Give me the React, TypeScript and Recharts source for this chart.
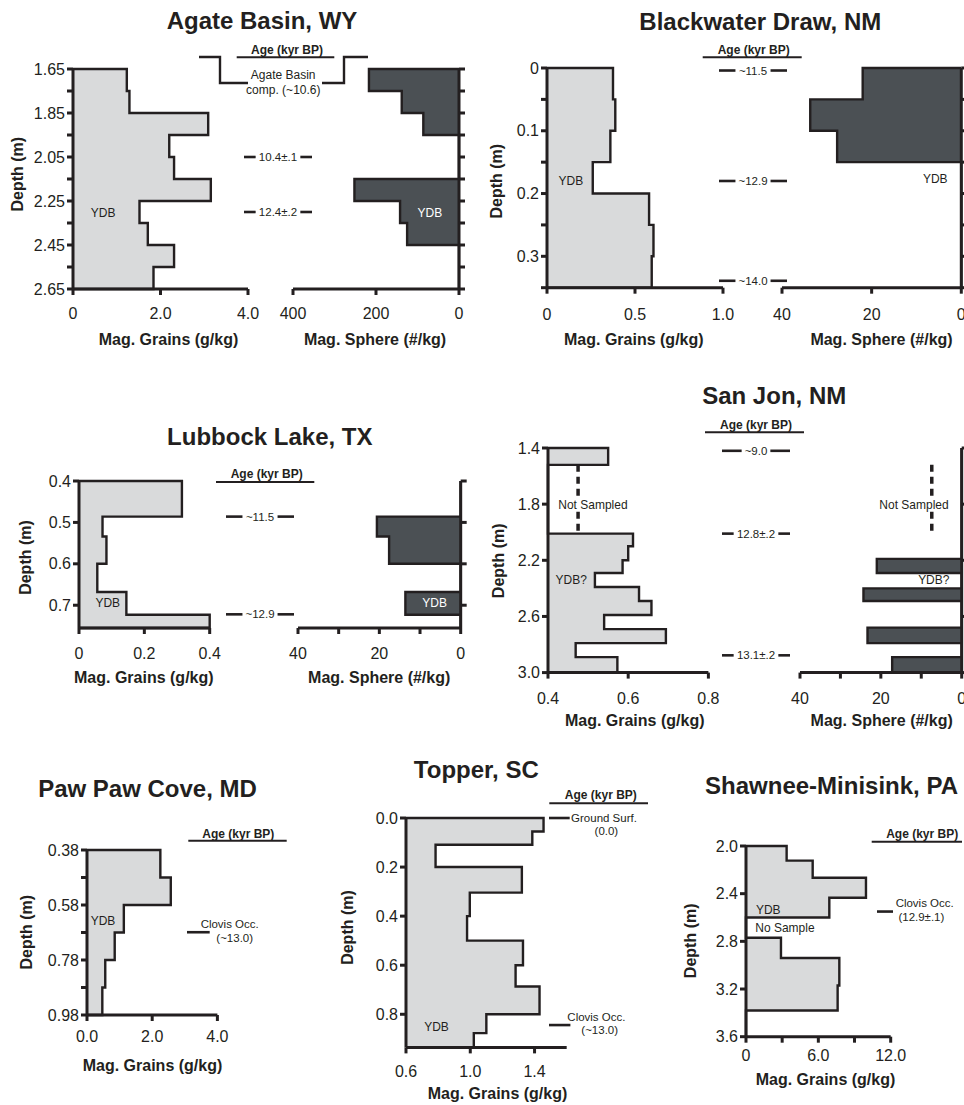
import React from 'react'
import { ComposedChart, Area, Scatter, XAxis, YAxis, ReferenceDot, ReferenceLine } from 'recharts'

const INK = '#231f20'
const LIGHT = '#d9dadb'
const DARK = '#4b5054'
const FONT = '"Liberation Sans", Arial, Helvetica, sans-serif'
const TOP = 12
const BOTTOM = 48

// Agate Basin, WY
const agateDepths = [1.65, 1.75, 1.85, 1.95, 2.05, 2.15, 2.25, 2.35, 2.45, 2.55, 2.65]
const agateGrains = [1.23, 1.29, 3.09, 2.2, 2.31, 3.15, 1.52, 1.71, 2.31, 1.84]
const agateSpheres = [217, 138, 86, 0, 0, 252, 142, 125, 0, 0]
const agateYLabels = ['1.65', '', '1.85', '', '2.05', '', '2.25', '', '2.45', '', '2.65']
const agateAgeDepths = [2.05, 2.3]
const agateAgeLabels = ['10.4±.1', '12.4±.2']

// Blackwater Draw, NM
const blackwaterDepths = [0, 0.05, 0.1, 0.15, 0.2, 0.25, 0.3, 0.35]
const blackwaterGrains = [0.375, 0.388, 0.36, 0.26, 0.58, 0.605, 0.595]
const blackwaterSpheres = [22, 33.7, 27.7, 0, 0, 0, 0]
const blackwaterYLabels = ['0', '', '0.1', '', '0.2', '', '0.3', '']
const blackwaterAgeDepths = [0.004, 0.18, 0.339]
const blackwaterAgeLabels = ['~11.5', '~12.9', '~14.0']

// Lubbock Lake, TX
const lubbockDepths = [0.4, 0.486, 0.534, 0.6, 0.668, 0.723, 0.755]
const lubbockGrains = [0.315, 0.072, 0.084, 0.056, 0.145, 0.4]
const lubbockSpheres = [0, 20.6, 17.6, 0, 13.6, 0]
const lubbockYTicks = [0.4, 0.5, 0.6, 0.7]
const lubbockYLabels = ['0.4', '0.5', '0.6', '0.7']
const lubbockAgeDepths = [0.486, 0.722]
const lubbockAgeLabels = ['~11.5', '~12.9']

// San Jon, NM
const sanJonDepths = [1.4, 1.52, 2.01, 2.1, 2.2, 2.29, 2.39, 2.49, 2.59, 2.69, 2.79, 2.89, 3.0]
const sanJonGrains = [0.55, 0.4, 0.612, 0.6, 0.586, 0.517, 0.627, 0.658, 0.54, 0.694, 0.469, 0.573]
const sanJonSphereDepths = [1.4, 2.19, 2.29, 2.4, 2.49, 2.68, 2.79, 2.89, 3.0]
const sanJonSpheres = [0, 21, 0, 24.3, 0, 23.3, 0, 17.2]
const sanJonYTicks = [1.4, 1.8, 2.2, 2.6, 3.0]
const sanJonYLabels = ['1.4', '1.8', '2.2', '2.6', '3.0']
const sanJonAgeDepths = [1.42, 2.01, 2.877]
const sanJonAgeLabels = ['~9.0', '12.8±.2', '13.1±.2']

// Paw Paw Cove, MD
const pawPawDepths = [0.38, 0.48, 0.58, 0.68, 0.78, 0.88, 0.98]
const pawPawGrains = [2.25, 2.57, 1.13, 0.85, 0.56, 0.47]
const pawPawYLabels = ['0.38', '', '0.58', '', '0.78', '', '0.98']
const pawPawAgeDepths = [0.679]
const pawPawAgeLabels = [['Clovis Occ.', '(~13.0)']]

// Topper, SC
const topperDepths = [0, 0.055, 0.109, 0.2, 0.304, 0.4, 0.5, 0.6, 0.687, 0.8, 0.877, 0.935]
const topperGrains = [1.456, 1.386, 0.784, 1.321, 0.997, 0.98, 1.328, 1.282, 1.431, 1.1, 1.022]
const topperYTicks = [0, 0.2, 0.4, 0.6, 0.8]
const topperYLabels = ['0.0', '0.2', '0.4', '0.6', '0.8']
const topperAgeDepths = [0, 0.844]
const topperAgeLabels = [['Ground Surf.', '(0.0)'], ['Clovis Occ.', '(~13.0)']]

// Shawnee-Minisink, PA
const shawneeDepths = [2.0, 2.123, 2.266, 2.434, 2.6, 2.77, 2.94, 3.17, 3.38, 3.6]
const shawneeGrains = [3.37, 5.53, 9.95, 6.91, 0, 2.9, 7.74, 7.6, 0]
const shawneeYTicks = [2.0, 2.4, 2.8, 3.2, 3.6]
const shawneeYLabels = ['2.0', '2.4', '2.8', '3.2', '3.6']
const shawneeAgeDepths = [2.55]
const shawneeAgeLabels = [['Clovis Occ.', '(12.9±.1)']]

type Note = { v: number; d: number; text: string; color?: string }
type Gap = { v: number; from: number; to: number }
type NoteLayout = { line: number; t1: [number, number]; t2: [number, number] }

// step outline: in at the top, down each interval, back to the axis at the bottom
function stepRows(depths: number[], values: number[], base: number) {
  const rows = [{ d: depths[0], v: base }]
  values.forEach((v, i) => {
    rows.push({ d: depths[i], v })
    rows.push({ d: depths[i + 1], v })
  })
  rows.push({ d: depths[depths.length - 1], v: base })
  return rows
}

const fmt = (labels: string[]) => (_: number, i: number) => labels[i] ?? ''

const textW = (s: string) =>
  [...s].reduce((w, c) => w + (c === '.' ? 0.278 : c === '~' || c === '±' ? 0.584 : 0.556), 0) * 11.5

type ProfileProps = {
  box: number[]
  side: 'left' | 'right'
  depths: number[]
  values: number[]
  base?: number
  xDomain: [number, number]
  xTicks: number[]
  xLabels: string[]
  yDomain: [number, number]
  yTicks: number[]
  yLabels?: string[]
  fill: string
  tickMargin?: number
  notes?: Note[]
  gaps?: Gap[]
}

function Profile(p: ProfileProps) {
  const [x0, x1, y0, y1] = p.box
  const left = p.side === 'left'
  const yw = left ? 50 : 14
  const padL = left ? yw : 28
  const padR = left ? 28 : yw
  const base = p.base ?? 0
  const data = stepRows(p.depths, p.values, base)
  const axisLine = { stroke: INK, strokeWidth: 3 }
  const tick = { fill: INK, fontSize: 16, fontFamily: FONT }
  return (
    <div style={{ position: 'absolute', left: x0 - padL, top: y0 - TOP }}>
      <ComposedChart
        layout="vertical"
        width={x1 - x0 + padL + padR}
        height={y1 - y0 + TOP + BOTTOM}
        data={data}
        margin={{ top: TOP, right: left ? padR : 0, bottom: 0, left: left ? 0 : padL }}
      >
        <Area
          type="linear"
          dataKey="v"
          baseValue={base}
          stroke={INK}
          strokeWidth={2.4}
          fill={p.fill}
          fillOpacity={1}
          dot={false}
          activeDot={false}
          isAnimationActive={false}
        />
        {(p.gaps ?? []).map((g, i) => (
          <ReferenceLine
            key={i}
            segment={[{ x: g.v, y: g.from }, { x: g.v, y: g.to }]}
            stroke={INK}
            strokeWidth={3.5}
            strokeDasharray="7 5"
          />
        ))}
        {(p.notes ?? []).map((n, i) => (
          <ReferenceDot
            key={i}
            x={n.v}
            y={n.d}
            r={0}
            stroke="none"
            fill="none"
            label={{ value: n.text, position: 'center', fill: n.color ?? INK, fontSize: 12, fontFamily: FONT }}
          />
        ))}
        <XAxis
          type="number"
          domain={p.xDomain}
          ticks={p.xTicks}
          tickFormatter={fmt(p.xLabels)}
          reversed={!left}
          height={BOTTOM}
          interval={0}
          tickSize={6}
          tickMargin={p.tickMargin ?? 13}
          axisLine={axisLine}
          tickLine={axisLine}
          tick={tick}
        />
        {/* in vertical layout the Y axis already runs top-down */}
        <YAxis
          type="number"
          dataKey="d"
          domain={p.yDomain}
          ticks={p.yTicks}
          tickFormatter={fmt(p.yLabels ?? [])}
          orientation={p.side}
          width={yw}
          interval={0}
          tickSize={6}
          tickMargin={2}
          axisLine={axisLine}
          tickLine={axisLine}
          tick={tick}
        />
      </ComposedChart>
    </div>
  )
}

type AgeProps = {
  box: number[]
  yDomain: [number, number]
  depths: number[]
  labels: (string | string[])[]
  layouts?: NoteLayout[]
}

function AgeColumn({ box, yDomain, depths, labels, layouts }: AgeProps) {
  const [x0, x1, y0, y1] = box
  const data = depths.map((d, i) => ({ x: layouts ? 0 : 0.5, d, i }))
  const txt = { fontSize: 11.5, fontFamily: FONT, fill: INK }

  const shape = (props: any) => {
    const { cx, cy, payload } = props
    const label = labels[payload.i]
    if (!layouts) {
      const half = textW(label as string) / 2 + 3
      return (
        <g>
          <line x1={cx - 34} x2={cx - half} y1={cy} y2={cy} stroke={INK} strokeWidth={2.6} />
          <line x1={cx + half} x2={cx + 34} y1={cy} y2={cy} stroke={INK} strokeWidth={2.6} />
          <text x={cx} y={cy} dy="0.36em" textAnchor="middle" {...txt}>{label as string}</text>
        </g>
      )
    }
    const L = layouts[payload.i]
    const [a, b] = label as string[]
    return (
      <g>
        <line x1={cx} x2={cx + L.line} y1={cy} y2={cy} stroke={INK} strokeWidth={2.6} />
        <text x={cx + L.t1[0]} y={cy + L.t1[1]} dy="0.36em" textAnchor="middle" {...txt}>{a}</text>
        <text x={cx + L.t2[0]} y={cy + L.t2[1]} dy="0.36em" textAnchor="middle" {...txt}>{b}</text>
      </g>
    )
  }

  return (
    <div style={{ position: 'absolute', left: x0, top: y0 - TOP }}>
      <ComposedChart
        layout="vertical"
        width={x1 - x0}
        height={y1 - y0 + TOP + BOTTOM}
        data={data}
        margin={{ top: TOP, right: 0, bottom: BOTTOM, left: 0 }}
      >
        <XAxis type="number" dataKey="x" domain={[0, 1]} hide />
        <YAxis type="number" dataKey="d" domain={yDomain} hide />
        <Scatter dataKey="x" isAnimationActive={false} shape={shape} />
      </ComposedChart>
    </div>
  )
}

const TITLES: [string, number, number][] = [
  ['Agate Basin, WY', 262, 20],
  ['Blackwater Draw, NM', 760.3, 21],
  ['Lubbock Lake, TX', 269.8, 436],
  ['San Jon, NM', 774.2, 395],
  ['Paw Paw Cove, MD', 147.5, 788.3],
  ['Topper, SC', 476.3, 769.3],
  ['Shawnee-Minisink, PA', 831.5, 785],
]

const GRAINS = 'Mag. Grains (g/kg)'
const SPHERE = 'Mag. Sphere (#/kg)'
const X_TITLES: [string, number, number][] = [
  [GRAINS, 168.5, 339],
  [SPHERE, 375, 339],
  [GRAINS, 633.8, 339],
  [SPHERE, 881.5, 339],
  [GRAINS, 143.8, 677.7],
  [SPHERE, 379.2, 677.7],
  [GRAINS, 634.7, 720],
  [SPHERE, 881.7, 720],
  [GRAINS, 152.5, 1065],
  [GRAINS, 497.5, 1093.3],
  [GRAINS, 825.5, 1079.3],
]

const Y_TITLES: [number, number][] = [
  [17.3, 174.2],
  [496, 181.2],
  [25, 557.5],
  [498.3, 560.8],
  [26.7, 932.2],
  [347.3, 927.5],
  [690, 940.8],
]

// text cx, text cy, underline x0, x1, y
const AGE_HEADERS: [number, number, number, number, number][] = [
  [287, 49.3, 236.7, 334.3, 57.3],
  [753.7, 49.3, 702.7, 801.7, 57.3],
  [266.7, 474, 216, 314.3, 482],
  [756, 424.3, 705, 804, 432.3],
  [238.3, 833.3, 188.3, 286.7, 840.7],
  [600.8, 795, 549.3, 648, 803.3],
  [922.2, 834, 871.7, 962, 841.7],
]

function Overlay() {
  const base = { fontFamily: FONT, fill: INK }
  return (
    <svg width={964} height={1105} style={{ position: 'absolute', left: 0, top: 0, pointerEvents: 'none' }}>
      {TITLES.map(([t, x, y]) => (
        <text key={t} x={x} y={y} dy="0.36em" textAnchor="middle" fontSize={24} fontWeight="bold" {...base}>{t}</text>
      ))}
      {X_TITLES.map(([t, x, y], i) => (
        <text key={i} x={x} y={y} dy="0.36em" textAnchor="middle" fontSize={16} fontWeight="bold" {...base}>{t}</text>
      ))}
      {Y_TITLES.map(([x, y], i) => (
        <text key={i} transform={`translate(${x},${y}) rotate(-90)`} dy="0.36em" textAnchor="middle" fontSize={16} fontWeight="bold" {...base}>Depth (m)</text>
      ))}
      {AGE_HEADERS.map(([cx, cy, lx0, lx1, ly], i) => (
        <g key={i}>
          <text x={cx} y={cy} dy="0.36em" textAnchor="middle" fontSize={12} fontWeight="bold" {...base}>Age (kyr BP)</text>
          <line x1={lx0} x2={lx1} y1={ly} y2={ly} stroke={INK} strokeWidth={2} />
        </g>
      ))}
      {/* Agate Basin complex bracket */}
      <polyline points="199,57 220,57 220,83 248,83" fill="none" stroke={INK} strokeWidth={2.4} />
      <polyline points="322,83 344,83 344,57 368,57" fill="none" stroke={INK} strokeWidth={2.4} />
      <text x={283.2} y={75} dy="0.36em" textAnchor="middle" fontSize={12} {...base}>Agate Basin</text>
      <text x={283.3} y={90} dy="0.36em" textAnchor="middle" fontSize={12} {...base}>comp. (~10.6)</text>
    </svg>
  )
}

export default function App() {
  return (
    <div style={{ position: 'absolute', left: 0, top: 0, width: 964, height: 1105, overflow: 'hidden', background: '#fff' }}>
      {/* Agate Basin */}
      <Profile
        box={[73, 248, 69, 289]} side="left" depths={agateDepths} values={agateGrains}
        xDomain={[0, 4]} xTicks={[0, 2, 4]} xLabels={['0', '2.0', '4.0']}
        yDomain={[1.65, 2.65]} yTicks={agateDepths} yLabels={agateYLabels} fill={LIGHT} tickMargin={13}
        notes={[{ v: 0.69, d: 2.305, text: 'YDB' }]}
      />
      <Profile
        box={[293, 459, 69, 289]} side="right" depths={agateDepths} values={agateSpheres}
        xDomain={[0, 400]} xTicks={[0, 200, 400]} xLabels={['0', '200', '400']}
        yDomain={[1.65, 2.65]} yTicks={agateDepths} fill={DARK} tickMargin={13}
        notes={[{ v: 70, d: 2.305, text: 'YDB', color: '#fff' }]}
      />
      <AgeColumn box={[237.5, 317.5, 69, 289]} yDomain={[1.65, 2.65]} depths={agateAgeDepths} labels={agateAgeLabels} />

      {/* Blackwater Draw */}
      <Profile
        box={[546.7, 722.7, 68.3, 288]} side="left" depths={blackwaterDepths} values={blackwaterGrains}
        xDomain={[0, 1]} xTicks={[0, 0.5, 1]} xLabels={['0', '0.5', '1.0']}
        yDomain={[0, 0.35]} yTicks={blackwaterDepths} yLabels={blackwaterYLabels} fill={LIGHT} tickMargin={15}
        notes={[{ v: 0.136, d: 0.179, text: 'YDB' }]}
      />
      <Profile
        box={[781.7, 961, 68.3, 288]} side="right" depths={blackwaterDepths} values={blackwaterSpheres}
        xDomain={[0, 40]} xTicks={[0, 20, 40]} xLabels={['0', '20', '40']}
        yDomain={[0, 0.35]} yTicks={blackwaterDepths} fill={DARK} tickMargin={15}
        notes={[{ v: 5.8, d: 0.177, text: 'YDB' }]}
      />
      <AgeColumn box={[713, 793, 68.3, 288]} yDomain={[0, 0.35]} depths={blackwaterAgeDepths} labels={blackwaterAgeLabels} />

      {/* Lubbock Lake */}
      <Profile
        box={[79.3, 210, 481, 628]} side="left" depths={lubbockDepths} values={lubbockGrains}
        xDomain={[0, 0.4]} xTicks={[0, 0.2, 0.4]} xLabels={['0', '0.2', '0.4']}
        yDomain={[0.4, 0.755]} yTicks={lubbockYTicks} yLabels={lubbockYLabels} fill={LIGHT} tickMargin={14}
        notes={[{ v: 0.088, d: 0.694, text: 'YDB' }]}
      />
      <Profile
        box={[298.3, 461, 481, 628]} side="right" depths={lubbockDepths} values={lubbockSpheres}
        xDomain={[0, 40]} xTicks={[0, 10, 20, 30, 40]} xLabels={['0', '', '20', '', '40']}
        yDomain={[0.4, 0.755]} yTicks={lubbockYTicks} fill={DARK} tickMargin={14}
        notes={[{ v: 6.4, d: 0.694, text: 'YDB', color: '#fff' }]}
      />
      <AgeColumn box={[220, 300, 481, 628]} yDomain={[0.4, 0.755]} depths={lubbockAgeDepths} labels={lubbockAgeLabels} />

      {/* San Jon */}
      <Profile
        box={[548.3, 708.7, 447.7, 672.3]} side="left" depths={sanJonDepths} values={sanJonGrains} base={0.4}
        xDomain={[0.4, 0.8]} xTicks={[0.4, 0.6, 0.8]} xLabels={['0.4', '0.6', '0.8']}
        yDomain={[1.4, 3.0]} yTicks={sanJonYTicks} yLabels={sanJonYLabels} fill={LIGHT} tickMargin={14}
        gaps={[{ v: 0.475, from: 1.52, to: 1.75 }, { v: 0.475, from: 1.855, to: 2.01 }]}
        notes={[{ v: 0.512, d: 1.803, text: 'Not Sampled' }, { v: 0.458, d: 2.342, text: 'YDB?' }]}
      />
      <Profile
        box={[800, 961.7, 447.7, 672.3]} side="right" depths={sanJonSphereDepths} values={sanJonSpheres}
        xDomain={[0, 40]} xTicks={[0, 10, 20, 30, 40]} xLabels={['0', '', '20', '', '40']}
        yDomain={[1.4, 3.0]} yTicks={sanJonYTicks} fill={DARK} tickMargin={14}
        gaps={[{ v: 7.4, from: 1.52, to: 1.75 }, { v: 7.4, from: 1.855, to: 2.0 }]}
        notes={[{ v: 11.8, d: 1.803, text: 'Not Sampled' }, { v: 6.9, d: 2.342, text: 'YDB?' }]}
      />
      <AgeColumn box={[716, 796, 447.7, 672.3]} yDomain={[1.4, 3.0]} depths={sanJonAgeDepths} labels={sanJonAgeLabels} />

      {/* Paw Paw Cove */}
      <Profile
        box={[87.3, 217.7, 850, 1015]} side="left" depths={pawPawDepths} values={pawPawGrains}
        xDomain={[0, 4]} xTicks={[0, 2, 4]} xLabels={['0.0', '2.0', '4.0']}
        yDomain={[0.38, 0.98]} yTicks={pawPawDepths} yLabels={pawPawYLabels} fill={LIGHT} tickMargin={10}
        notes={[{ v: 0.49, d: 0.637, text: 'YDB' }]}
      />
      <AgeColumn
        box={[187.3, 300, 850, 1015]} yDomain={[0.38, 0.98]} depths={pawPawAgeDepths} labels={pawPawAgeLabels}
        layouts={[{ line: 22.7, t1: [42.7, -8.3], t2: [47.7, 5.4] }]}
      />

      {/* Topper */}
      <Profile
        box={[406, 566.7, 818.3, 1047.7]} side="left" depths={topperDepths} values={topperGrains} base={0.6}
        xDomain={[0.6, 1.6]} xTicks={[0.6, 1.0, 1.4]} xLabels={['0.6', '1.0', '1.4']}
        yDomain={[0, 0.935]} yTicks={topperYTicks} yLabels={topperYLabels} fill={LIGHT} tickMargin={12}
        notes={[{ v: 0.79, d: 0.851, text: 'YDB' }]}
      />
      <AgeColumn
        box={[549.3, 680, 818.3, 1047.7]} yDomain={[0, 0.935]} depths={topperAgeDepths} labels={topperAgeLabels}
        layouts={[
          { line: 20.7, t1: [55, 0], t2: [57.4, 13.3] },
          { line: 21.4, t1: [47.4, -8.3], t2: [50.7, 5] },
        ]}
      />

      {/* Shawnee-Minisink */}
      <Profile
        box={[746, 890.7, 846, 1036.7]} side="left" depths={shawneeDepths} values={shawneeGrains}
        xDomain={[0, 12]} xTicks={[0, 3, 6, 9, 12]} xLabels={['0', '', '6.0', '', '12.0']}
        yDomain={[2.0, 3.6]} yTicks={shawneeYTicks} yLabels={shawneeYLabels} fill={LIGHT} tickMargin={7}
        notes={[{ v: 1.85, d: 2.537, text: 'YDB' }, { v: 3.23, d: 2.69, text: 'No Sample' }]}
      />
      <AgeColumn
        box={[877.3, 964, 846, 1036.7]} yDomain={[2.0, 3.6]} depths={shawneeAgeDepths} labels={shawneeAgeLabels}
        layouts={[{ line: 16, t1: [47.7, -8.4], t2: [44.4, 5] }]}
      />

      <Overlay />
    </div>
  )
}
